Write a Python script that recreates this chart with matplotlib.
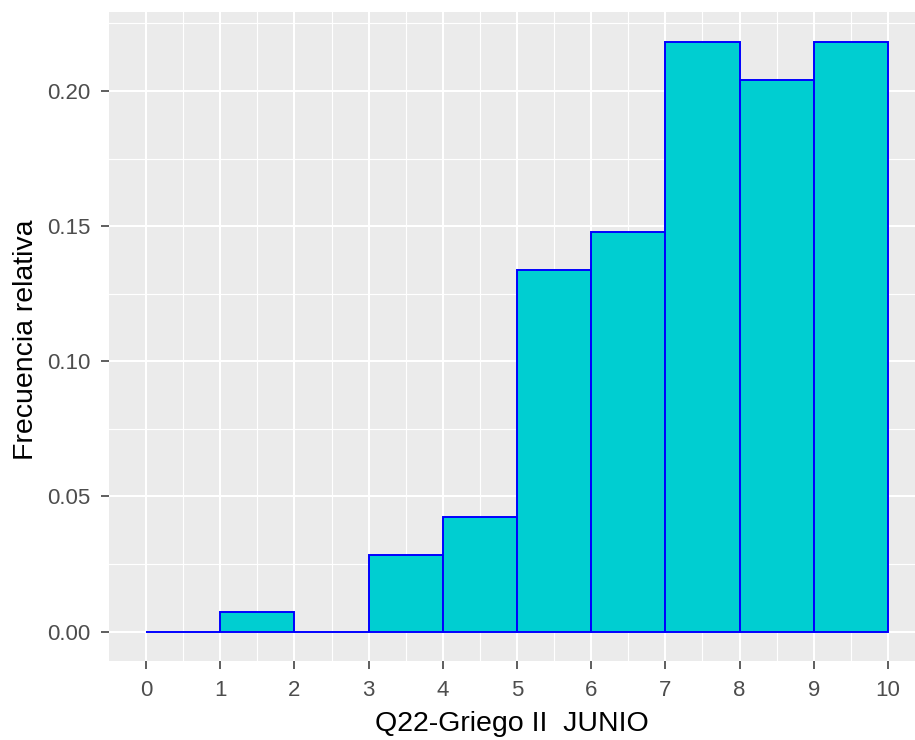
import matplotlib

matplotlib.use("Agg")
import matplotlib.pyplot as plt
import numpy as np

plt.rcParams["font.family"] = ["Liberation Sans", "DejaVu Sans"]

# Histogram of grades, bins of width 1 from 0 to 10 (relative frequency)
bin_edges = [0, 1, 2, 3, 4, 5, 6, 7, 8, 9, 10]
counts = [0, 1, 0, 4, 6, 19, 21, 31, 29, 31]
rel_freq = np.array(counts) / sum(counts)
x_ticks = list(range(0, 11))
y_ticks = [0.00, 0.05, 0.10, 0.15, 0.20]
y_labels = ["0.00", "0.05", "0.10", "0.15", "0.20"]

fig = plt.figure(figsize=(9.15, 7.40), dpi=100)
W, H = 915, 740
# panel in pixels: left 109, right 925 (cropped by the image edge), top 12, bottom 661
ax = fig.add_axes([109 / W, 1 - 661 / H, (925 - 109) / W, (661 - 12) / H])
ax.set_facecolor("#EBEBEB")
for s in ax.spines.values():
    s.set_visible(False)

ax.set_xlim(-0.5, 10.5)
ymax = rel_freq.max()
ax.set_ylim(-0.05 * ymax, ymax * 1.05)

# grid
for xm in np.arange(0.5, 10.5, 1):
    ax.axvline(xm, color="white", lw=0.8, zorder=0)
for ym in np.arange(0.025, 0.23, 0.05):
    ax.axhline(ym, color="white", lw=0.8, zorder=0)
for xv in x_ticks:
    ax.axvline(xv, color="white", lw=1.5, zorder=0)
for yv in y_ticks:
    ax.axhline(yv, color="white", lw=1.5, zorder=0)

ax.bar(bin_edges[:-1], rel_freq, width=1, align="edge", color="#00CED1",
       edgecolor="#0000FF", linewidth=1.4, zorder=2)

ax.set_xticks(x_ticks)
ax.set_yticks(y_ticks)
ax.set_yticklabels(y_labels)
ax.tick_params(axis="both", colors="#333333", length=5.5, width=1.1,
               labelsize=16, labelcolor="#4D4D4D")
ax.tick_params(axis="x", pad=8)
ax.tick_params(axis="y", pad=8)

fig.text(512 / W, 1 - 724 / H, "Q22-Griego II  JUNIO", ha="center", va="center",
         fontsize=20.5, color="black")
fig.text(26 / W, 1 - 340 / H, "Frecuencia relativa", ha="center", va="center",
         rotation=90, fontsize=20.5, color="black")

fig.savefig("out.png", dpi=100, facecolor="white")
